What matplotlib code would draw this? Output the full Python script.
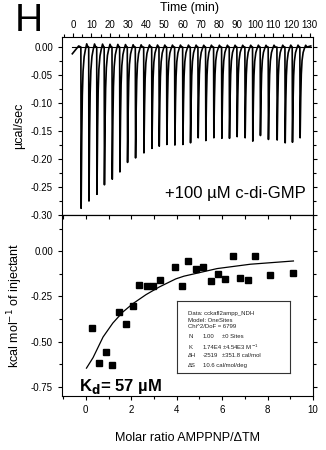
import numpy as np
import matplotlib
matplotlib.use('Agg')
import matplotlib.pyplot as plt
from matplotlib.ticker import MultipleLocator

plt.rcParams['font.family'] = ['Liberation Sans', 'DejaVu Sans']
plt.rcParams['axes.unicode_minus'] = False

# raw thermogram: injection times (min) and peak heights (ucal/sec)
inj_times = [4.2, 8.5, 12.9, 17.0, 21.3, 25.5, 29.7, 34.1, 38.7, 43.1,
             47.1, 51.3, 55.7, 60.1, 64.3, 68.5, 72.7, 77.1, 81.5, 85.7,
             89.9, 94.3, 98.5, 102.7, 107.1, 111.9, 116.3, 120.3, 124.5]
peak_heights = [-0.288, -0.275, -0.263, -0.246, -0.236, -0.223, -0.206, -0.198,
                -0.189, -0.181, -0.177, -0.174, -0.175, -0.174, -0.171, -0.162,
                -0.167, -0.162, -0.163, -0.163, -0.160, -0.162, -0.168, -0.158,
                -0.165, -0.166, -0.171, -0.170, -0.162]

# integrated heats
molar_ratio = [0.29, 0.58, 0.90, 1.17, 1.48, 1.78, 2.07, 2.36, 2.68, 2.97,
               3.28, 3.92, 4.22, 4.51, 4.85, 5.15, 5.49, 5.81, 6.13, 6.46,
               6.80, 7.12, 7.44, 8.11, 9.14]
heat = [-0.424, -0.619, -0.556, -0.631, -0.337, -0.402, -0.302, -0.184,
        -0.192, -0.192, -0.159, -0.089, -0.190, -0.054, -0.100, -0.090,
        -0.164, -0.126, -0.153, -0.029, -0.148, -0.157, -0.026, -0.129, -0.118]

# fitted curve
fit_x = [0.03, 0.32, 0.76, 1.19, 1.63, 2.07, 2.65, 3.23, 3.96, 4.32, 5.78, 7.24, 9.14]
fit_y = [-0.646, -0.588, -0.474, -0.397, -0.336, -0.290, -0.240, -0.198,
         -0.153, -0.138, -0.096, -0.072, -0.054]

# build the trace: spike shape template (offset min, fraction of peak)
shape_dt = [0.0, 0.15, 0.5, 0.8, 1.2, 1.8, 2.5, 3.2, 3.9]
shape_fr = [0.0, 1.0, 0.55, 0.3, 0.15, 0.06, 0.015, -0.02, 0.0]
tx = [-0.5, 1.5, 3.0]
ty = [-0.012, -0.004, 0.002]
for t, h in zip(inj_times, peak_heights):
    for dt, fr in zip(shape_dt, shape_fr):
        tx.append(t + dt)
        ty.append(h * fr)
tx.append(130.5)
ty.append(0.002)

fig = plt.figure(figsize=(3.26, 4.5), dpi=100)
ax1 = fig.add_axes([0.190, 0.5222, 0.770, 0.3956])
ax2 = fig.add_axes([0.190, 0.12, 0.770, 0.4022])

ax1.plot([-0.5, 130.5], [0, 0], color='black', lw=0.8)
ax1.plot(tx, ty, color='black', lw=1.2)
ax1.set_xlim(-6.2, 131.7)
ax1.set_ylim(-0.30, 0.018)
ax1.xaxis.set_ticks_position('top')
ax1.xaxis.set_label_position('top')
ax1.xaxis.set_major_locator(MultipleLocator(10))
ax1.xaxis.set_minor_locator(MultipleLocator(5))
ax1.yaxis.set_major_locator(MultipleLocator(0.05))
ax1.yaxis.set_minor_locator(MultipleLocator(0.025))
ax1.yaxis.set_major_formatter(matplotlib.ticker.FormatStrFormatter('%.2f'))
ax1.tick_params(axis='both', which='both', direction='out', labelsize=7, right=True)
ax1.tick_params(which='major', length=3, width=0.8)
ax1.tick_params(which='minor', length=2, width=0.8)
ax1.tick_params(axis='x', pad=2)
ax1.set_ylabel('µcal/sec', fontsize=9, labelpad=4)
ax1.text(0.97, 0.12, '+100 µM c-di-GMP', transform=ax1.transAxes,
         fontsize=12, ha='right', va='center')

ax2.plot(fit_x, fit_y, color='black', lw=0.9)
ax2.plot(molar_ratio, heat, 's', color='black', markersize=5)
ax2.set_xlim(-1.05, 10.0)
ax2.set_ylim(-0.80, 0.20)
ax2.xaxis.set_major_locator(MultipleLocator(2))
ax2.xaxis.set_minor_locator(MultipleLocator(1))
ax2.yaxis.set_major_locator(MultipleLocator(0.25))
ax2.yaxis.set_minor_locator(MultipleLocator(0.125))
ax2.yaxis.set_major_formatter(matplotlib.ticker.FormatStrFormatter('%.2f'))
ax2.tick_params(axis='both', which='both', direction='out', labelsize=7, right=True)
ax2.tick_params(which='major', length=3, width=0.8)
ax2.tick_params(which='minor', length=2, width=0.8)
sec = ax2.secondary_xaxis('top')
sec.xaxis.set_major_locator(MultipleLocator(1))
sec.tick_params(direction='in', length=3, width=0.8, labeltop=False)
ax2.set_ylabel('kcal mol$^{-1}$ of injectant', fontsize=9, labelpad=4)
ax2.set_xlabel('Molar ratio AMPPNP/ΔTM', fontsize=9, labelpad=12)
ax2.text(-0.3, -0.75, r'K$_\mathbf{d}$= 57 µM', fontsize=12, fontweight='bold',
         ha='left', va='center')

for ax in (ax1, ax2):
    for s in ax.spines.values():
        s.set_linewidth(0.8)

# fit report box
box = fig.add_axes([177 / 326, 1 - 373 / 450, 113 / 326, 72 / 450])
box.set_xticks([])
box.set_yticks([])
for s in box.spines.values():
    s.set_linewidth(0.8)
    s.set_color('#333333')
lines = [('Data: cckafl2ampp_NDH', '', ''),
         ('Model: OneSites', '', ''),
         ('Chi^2/DoF = 6799', '', ''),
         ('N', '1.00', '±0 Sites'),
         ('K', '1.74E4', '±4.54E3 M$^{-1}$'),
         ('ΔH', '-2519', '±351.8 cal/mol'),
         ('ΔS', '10.6 cal/mol/deg', '')]
ys = [0.83, 0.73, 0.64, 0.50, 0.36, 0.24, 0.11]
for (a, b, c), y in zip(lines, ys):
    box.text(0.10, y, a, fontsize=4.3, va='center', color='#222222')
    if b:
        box.text(0.23, y, b, fontsize=4.3, va='center', color='#222222')
    if c:
        box.text(0.40, y, c, fontsize=4.3, va='center', color='#222222')

fig.text(0.58, 1 - 11 / 450, 'Time (min)', fontsize=9, ha='center', va='baseline')
fig.text(15 / 326, 1 - 31 / 450, 'H', fontsize=28, ha='left', va='baseline')

fig.savefig('out.png', dpi=100)
